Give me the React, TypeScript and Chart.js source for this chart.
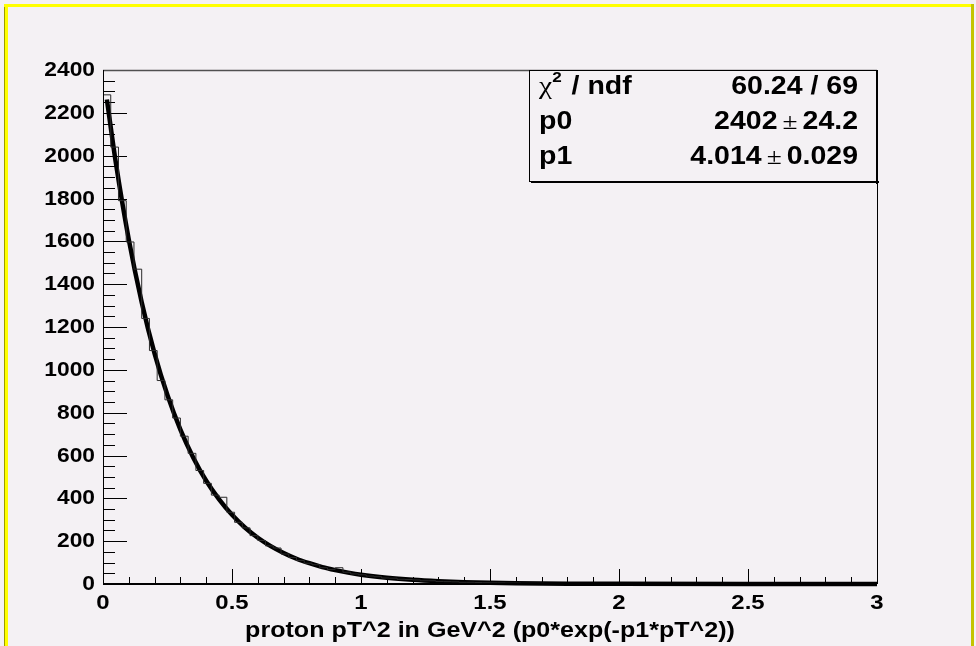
import React, { useEffect, useRef } from "react";
import { Chart, registerables } from "chart.js";

Chart.register(...registerables);

// ---------- data ----------
const X_MIN = 0;
const X_MAX = 3;
const BIN_WIDTH = 0.03;
const Y_MIN = 0;
const Y_MAX = 2400;
const X_MAJOR_STEP = 0.5;
const X_MINOR_STEP = 0.1;
const Y_MAJOR_STEP = 200;
const Y_MINOR_STEP = 50;

// histogram contents, 100 bins of 0.03 from 0 to 3
const binCounts = [
  2284, 2040, 1790, 1597, 1470, 1240, 1090, 950, 860, 775,
  690, 610, 530, 470, 415, 405, 335, 288, 262, 226,
  203, 178, 168, 140, 124, 110, 97, 90, 76, 68,
  76, 55, 47, 43, 37, 34, 28, 27, 22, 21,
  19, 15, 15, 12, 11, 10, 8, 8, 7, 6,
  5, 5, 4, 4, 3, 3, 3, 2, 2, 2,
  2, 1, 1, 1, 1, 1, 1, 1, 1, 1,
  1, 0, 0, 0, 0, 0, 0, 0, 0, 0,
  0, 0, 0, 0, 0, 0, 0, 0, 0, 0,
  0, 0, 0, 0, 0, 0, 0, 0, 0, 0,
];

// fitted curve, sampled points
const fitX = [
  0.015, 0.05, 0.1, 0.15, 0.2, 0.25, 0.3, 0.35, 0.4, 0.45, 0.5, 0.55, 0.6,
  0.65, 0.7, 0.75, 0.8, 0.85, 0.9, 0.95, 1.0, 1.1, 1.2, 1.3, 1.4, 1.5, 1.6,
  1.7, 1.8, 1.9, 2.0, 2.5, 3.0,
];
const fitY = [
  2262, 1965, 1608, 1316, 1076, 881, 721, 590, 482, 395, 323, 264, 216,
  177, 145, 118, 97, 79, 65, 53, 43, 29, 19.4, 13, 8.7, 5.8, 3.9,
  2.6, 1.7, 1.2, 0.8, 0.1, 0,
];

const axisTitle = "proton pT^2 in GeV^2 (p0*exp(-p1*pT^2))";
const statsNames = ["p0", "p1"];
const statsValues = ["2402", "4.014"];
const statsErrors = ["24.2", "0.029"];
const chi2Text = "60.24 / 69";

// ---------- style ----------
const BG = "#f4f1f4";
const SANS = "'Liberation Sans', Arial, Helvetica, sans-serif";
const SERIF = "'Liberation Serif', 'Times New Roman', serif";
const SX = 1.14; // horizontal stretch of the ROOT fonts

type Seg = { t: string; font: string; dy?: number; gap?: number };

function segWidth(ctx: CanvasRenderingContext2D, segs: Seg[]) {
  let w = 0;
  for (const s of segs) {
    ctx.font = s.font;
    w += ctx.measureText(s.t).width * SX + (s.gap || 0);
  }
  return w;
}

function drawSegs(
  ctx: CanvasRenderingContext2D,
  segs: Seg[],
  x: number,
  y: number,
  align: "left" | "right" | "center"
) {
  const total = segWidth(ctx, segs);
  let cx = align === "left" ? x : align === "right" ? x - total : x - total / 2;
  for (const s of segs) {
    ctx.save();
    ctx.font = s.font;
    const w = ctx.measureText(s.t).width * SX;
    ctx.translate(cx, y + (s.dy || 0));
    ctx.scale(SX, 1);
    ctx.textAlign = "left";
    ctx.textBaseline = "alphabetic";
    ctx.fillStyle = "#000";
    ctx.fillText(s.t, 0, 0);
    ctx.restore();
    cx += w + (s.gap || 0);
  }
}

const rootPlugin = {
  id: "rootStyle",
  beforeDatasetsDraw(chart: any) {
    const { ctx, chartArea: a } = chart;
    const x = chart.scales.x;
    const y = chart.scales.y;
    ctx.save();
    ctx.strokeStyle = "#000";
    ctx.lineWidth = 1;
    // y ticks inside
    const nY = Math.round((Y_MAX - Y_MIN) / Y_MINOR_STEP);
    const yRatio = Math.round(Y_MAJOR_STEP / Y_MINOR_STEP);
    for (let i = 0; i <= nY; i++) {
      const v = Y_MIN + i * Y_MINOR_STEP;
      const py = Math.round(y.getPixelForValue(v)) + 0.5;
      const len = i % yRatio === 0 ? 24 : 12;
      ctx.beginPath();
      ctx.moveTo(a.left, py);
      ctx.lineTo(a.left + len, py);
      ctx.stroke();
    }
    // x ticks inside
    const nX = Math.round((X_MAX - X_MIN) / X_MINOR_STEP);
    const xRatio = Math.round(X_MAJOR_STEP / X_MINOR_STEP);
    for (let i = 0; i <= nX; i++) {
      const v = X_MIN + i * X_MINOR_STEP;
      const px = Math.round(x.getPixelForValue(v)) + 0.5;
      const len = i % xRatio === 0 ? 15 : 7;
      ctx.beginPath();
      ctx.moveTo(px, a.bottom);
      ctx.lineTo(px, a.bottom - len);
      ctx.stroke();
    }
    ctx.restore();
  },
  afterDatasetsDraw(chart: any) {
    const { ctx, chartArea: a } = chart;
    const x = chart.scales.x;
    const y = chart.scales.y;
    ctx.save();
    // frame
    ctx.strokeStyle = "#505050";
    ctx.lineWidth = 1.5;
    ctx.beginPath();
    ctx.moveTo(a.left, a.top + 0.5);
    ctx.lineTo(a.right, a.top + 0.5);
    ctx.stroke();
    ctx.strokeStyle = "#000";
    ctx.lineWidth = 1;
    ctx.beginPath();
    ctx.moveTo(a.right + 0.5, a.top);
    ctx.lineTo(a.right + 0.5, a.bottom);
    ctx.stroke();
    ctx.beginPath();
    ctx.moveTo(a.left + 0.5, a.top);
    ctx.lineTo(a.left + 0.5, a.bottom);
    ctx.stroke();
    ctx.lineWidth = 2;
    ctx.beginPath();
    ctx.moveTo(a.left, a.bottom);
    ctx.lineTo(a.right, a.bottom);
    ctx.stroke();

    // tick labels
    const yFont = `bold 20px ${SANS}`;
    const nYM = Math.round((Y_MAX - Y_MIN) / Y_MAJOR_STEP);
    for (let i = 0; i <= nYM; i++) {
      const v = Y_MIN + i * Y_MAJOR_STEP;
      const py = y.getPixelForValue(v);
      drawSegs(ctx, [{ t: String(v), font: yFont }], a.left - 8, py + 6, "right");
    }
    const xFont = `bold 21px ${SANS}`;
    const nXM = Math.round((X_MAX - X_MIN) / X_MAJOR_STEP);
    for (let i = 0; i <= nXM; i++) {
      const v = X_MIN + i * X_MAJOR_STEP;
      const px = x.getPixelForValue(v);
      drawSegs(ctx, [{ t: String(v), font: xFont }], px, a.bottom + 25, "center");
    }
    // axis title
    drawSegs(
      ctx,
      [{ t: axisTitle, font: `bold 22px ${SANS}` }],
      (a.left + a.right) / 2,
      a.bottom + 53,
      "center"
    );

    // stats box
    const bw = 348;
    const bh = 112;
    const bx = a.right - bw;
    const by = a.top;
    ctx.fillStyle = BG;
    ctx.fillRect(bx, by, bw, bh);
    ctx.fillStyle = "#000";
    ctx.fillRect(bx + 2, by + bh - 1, bw, 2);
    ctx.fillRect(bx + bw - 1, by + 2, 2, bh);
    ctx.strokeStyle = "#000";
    ctx.lineWidth = 1;
    ctx.strokeRect(bx + 0.5, by + 0.5, bw - 1, bh - 1);

    const bFont = `bold 25px ${SANS}`;
    const pmFont = `24px ${SERIF}`;
    const lx = bx + 10;
    const rx = a.right - 19;
    const rows = [by + 24, by + 59, by + 94];
    drawSegs(
      ctx,
      [
        { t: "χ", font: `26px ${SERIF}` },
        { t: "2", font: `bold 15px ${SANS}`, dy: -12, gap: 2 },
        { t: " / ndf", font: bFont },
      ],
      lx,
      rows[0],
      "left"
    );
    drawSegs(ctx, [{ t: chi2Text, font: bFont }], rx, rows[0], "right");
    for (let i = 0; i < statsNames.length; i++) {
      drawSegs(ctx, [{ t: statsNames[i], font: bFont }], lx, rows[i + 1], "left");
      drawSegs(
        ctx,
        [
          { t: statsValues[i], font: bFont, gap: 5 },
          { t: "±", font: pmFont, gap: 5 },
          { t: statsErrors[i], font: bFont },
        ],
        rx,
        rows[i + 1],
        "right"
      );
    }
    ctx.restore();
  },
};

export default function App() {
  const ref = useRef<HTMLCanvasElement>(null);

  useEffect(() => {
    const canvas = ref.current;
    if (!canvas) return;
    const histPoints = binCounts.map((c, i) => ({ x: X_MIN + i * BIN_WIDTH, y: c }));
    histPoints.push({ x: X_MAX, y: binCounts[binCounts.length - 1] });
    const fitPoints = fitX.map((v, i) => ({ x: v, y: fitY[i] }));

    const chart = new Chart(canvas, {
      type: "line",
      data: {
        datasets: [
          {
            data: histPoints,
            stepped: "before",
            borderColor: "#2a2a2a",
            borderWidth: 1,
            pointRadius: 0,
            fill: false,
            clip: 2,
          } as any,
          {
            data: fitPoints,
            borderColor: "#000",
            borderWidth: 4.5,
            pointRadius: 0,
            cubicInterpolationMode: "monotone",
            fill: false,
            clip: 4,
          } as any,
        ],
      },
      options: {
        animation: false,
        responsive: false,
        devicePixelRatio: 1,
        events: [],
        layout: { padding: { left: 103, right: 99, top: 70, bottom: 62 } },
        plugins: { legend: { display: false }, tooltip: { enabled: false } },
        scales: {
          x: { type: "linear", display: false, min: X_MIN, max: X_MAX },
          y: { type: "linear", display: false, min: Y_MIN, max: Y_MAX },
        },
      },
      plugins: [rootPlugin],
    });
    return () => chart.destroy();
  }, []);

  return (
    <div
      style={{
        position: "fixed",
        left: 0,
        top: 0,
        width: 976,
        height: 646,
        background: BG,
        overflow: "hidden",
      }}
    >
      <div style={{ position: "absolute", left: 4, top: 4, width: 1, height: 646, background: "#9c9c00" }} />
      <div style={{ position: "absolute", left: 5, top: 4, width: 3, height: 646, background: "#ffff00" }} />
      <div style={{ position: "absolute", left: 4, top: 4, width: 970, height: 3, background: "#ffff00" }} />
      <div style={{ position: "absolute", left: 971, top: 4, width: 3, height: 646, background: "#c4c400" }} />
      <canvas
        ref={ref}
        width={976}
        height={646}
        style={{ position: "absolute", left: 0, top: 0, width: 976, height: 646 }}
      />
    </div>
  );
}
